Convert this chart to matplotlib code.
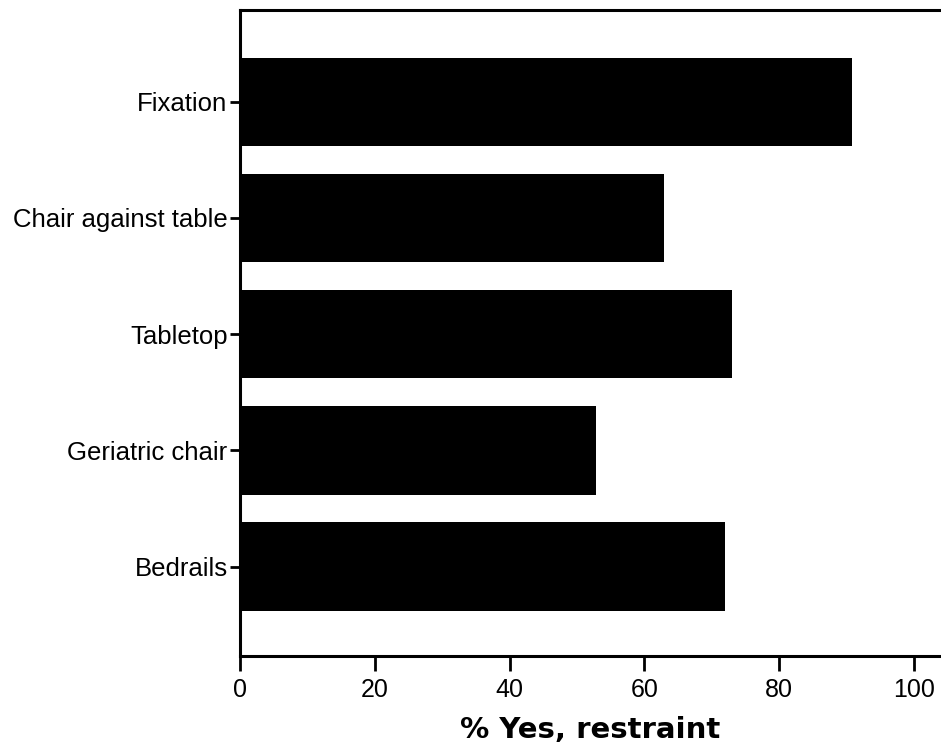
import matplotlib
matplotlib.use("Agg")
import matplotlib.pyplot as plt

categories = ["Fixation", "Chair against table", "Tabletop", "Geriatric chair", "Bedrails"]
values = [90.8, 62.9, 73.0, 52.8, 72.0]
xticks = [0, 20, 40, 60, 80, 100]

plt.rcParams['font.family'] = ['Liberation Sans', 'DejaVu Sans']

fig = plt.figure(figsize=(9.41, 7.51), dpi=100)
ax = fig.add_axes([240 / 941, 95 / 751, 701 / 941, 646 / 751])

ypos = list(range(len(categories)))[::-1]
ax.barh(ypos, values, height=0.76, color='black')

ax.set_xlim(0, 104)
ax.set_ylim(-0.77, 4.79)
ax.set_yticks(ypos)
ax.set_yticklabels(categories, fontsize=18.5)
ax.set_xticks(xticks)
ax.set_xticklabels([str(t) for t in xticks], fontsize=18)
ax.tick_params(axis='x', length=11, width=2, pad=5)
ax.tick_params(axis='y', length=7, width=2, pad=2)

for side in ['left', 'bottom', 'top']:
    ax.spines[side].set_linewidth(2.2)
ax.spines['right'].set_visible(False)

ax.set_xlabel('% Yes, restraint', fontsize=21, fontweight='bold',
              family='DejaVu Sans', labelpad=10)

fig.savefig('out.png', dpi=100)
